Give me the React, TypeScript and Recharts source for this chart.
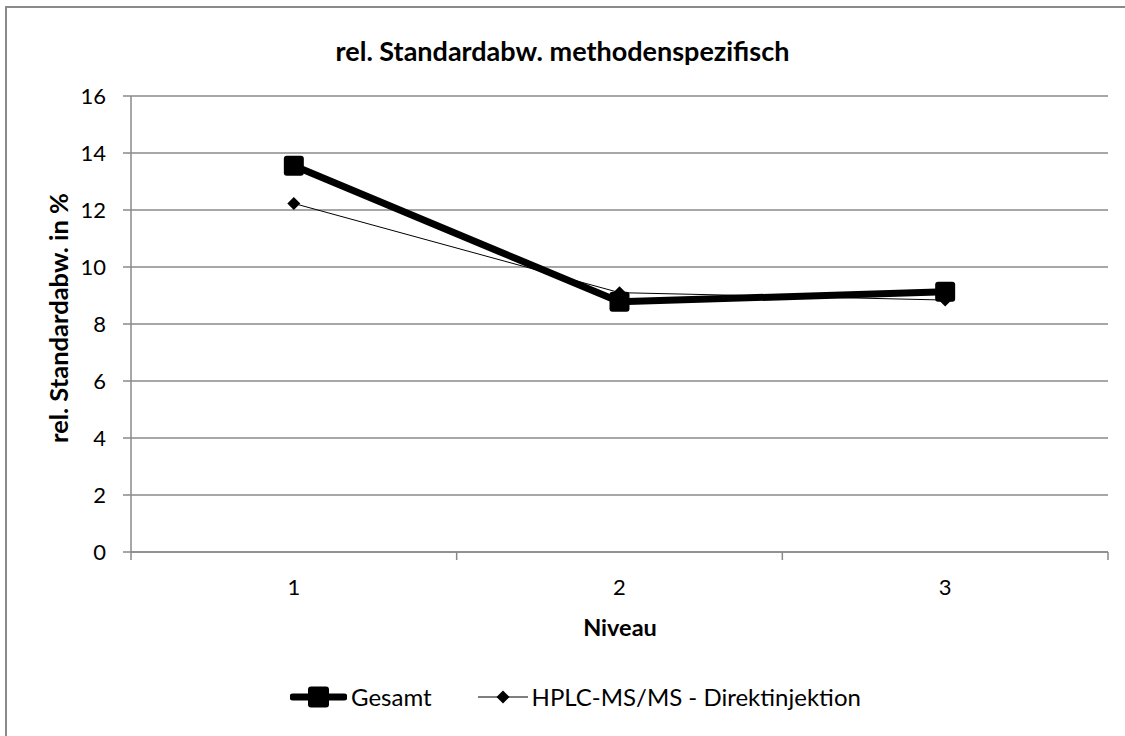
import { CartesianGrid, Legend, Line, LineChart, XAxis, YAxis } from "recharts";

const niveaus = [1, 2, 3];
const gesamt = [13.55, 8.78, 9.13];
const hplcDirekt = [12.23, 9.1, 8.84];
const yTicks = [0, 2, 4, 6, 8, 10, 12, 14, 16];
const xTicks = [0.5, 1, 1.5, 2, 2.5, 3, 3.5];

const data = niveaus.map((n, i) => ({ niveau: n, gesamt: gesamt[i], hplc: hplcDirekt[i] }));

const FONT = "Lato, 'Open Sans', sans-serif";
const GRID = "#8a8a8a";

const SquareDot = ({ cx, cy }: any) => (
  <rect x={cx - 10} y={cy - 10} width={20} height={20} rx={3} fill="#000" />
);

const DiamondDot = ({ cx, cy }: any) => (
  <polygon points={`${cx},${cy - 6.5} ${cx + 6.5},${cy} ${cx},${cy + 6.5} ${cx - 6.5},${cy}`} fill="#000" />
);

// integer ticks get a label, half ticks are the category boundary marks
const XTick = ({ x, y, payload }: any) => {
  const v = payload.value;
  if (Number.isInteger(v)) {
    return (
      <text x={x} y={y + 34} textAnchor="middle" dominantBaseline="central" fontSize={22} fontFamily={FONT} fill="#000">
        {v}
      </text>
    );
  }
  return <line x1={x} y1={y} x2={x} y2={y + 8} stroke={GRID} strokeWidth={1.5} />;
};

const LegendBody = () => (
  <div style={{ display: "flex", alignItems: "center", fontFamily: FONT, fontSize: 24, color: "#000" }}>
    <svg width={57} height={24}>
      <line x1={3} y1={12} x2={54} y2={12} stroke="#000" strokeWidth={7} strokeLinecap="round" />
      <rect x={18} y={1.5} width={21} height={21} rx={3} fill="#000" />
    </svg>
    <span style={{ marginLeft: 4 }}>Gesamt</span>
    <svg width={50} height={24} style={{ marginLeft: 46 }}>
      <line x1={0} y1={12} x2={50} y2={12} stroke="#000" strokeWidth={1} />
      <polygon points="25,5.5 31.5,12 25,18.5 18.5,12" fill="#000" />
    </svg>
    <span style={{ marginLeft: 4 }}>HPLC-MS/MS - Direktinjektion</span>
  </div>
);

const App = () => (
  <div style={{ position: "absolute", left: 0, top: 0, width: 1125, height: 736, background: "#fff", overflow: "hidden" }}>
    <style>{`body{margin:0;overflow:hidden}`}</style>
    <div style={{ position: "absolute", left: 5, top: 6, width: 1125, height: 736, borderLeft: `2px solid ${GRID}`, borderTop: `2px solid ${GRID}` }} />
    <div
      style={{
        position: "absolute",
        left: 0,
        top: 34,
        width: 1125,
        textAlign: "center",
        fontFamily: FONT,
        fontWeight: 700,
        fontSize: 27,
        color: "#000",
      }}
    >
      rel. Standardabw. methodenspezifisch
    </div>
    <LineChart
      width={1125}
      height={736}
      data={data}
      margin={{ top: 96, right: 17, bottom: 0, left: 71 }}
      style={{ position: "absolute", left: 0, top: 0 }}
    >
      <CartesianGrid vertical={false} stroke={GRID} strokeWidth={1.5} />
      <XAxis
        dataKey="niveau"
        type="number"
        domain={[0.5, 3.5]}
        ticks={xTicks}
        interval={0}
        allowDecimals
        tick={<XTick />}
        tickLine={false}
        tickSize={0}
        tickMargin={0}
        height={184}
        axisLine={{ stroke: GRID, strokeWidth: 1.5 }}
        label={{
          content: () => (
            <text x={620} y={627} textAnchor="middle" dominantBaseline="central" fontSize={23.5} fontWeight={700} fontFamily={FONT} fill="#000">
              Niveau
            </text>
          ),
        }}
      />
      <YAxis
        domain={[0, 16]}
        ticks={yTicks}
        interval={0}
        width={60}
        tickSize={8}
        tickMargin={17}
        tickLine={{ stroke: GRID, strokeWidth: 1.5 }}
        axisLine={{ stroke: GRID, strokeWidth: 1.5 }}
        tick={{ fontSize: 22, fontFamily: FONT, fill: "#000" }}
        label={{
          content: () => (
            <text
              x={58}
              y={318}
              transform="rotate(-90 58 318)"
              textAnchor="middle"
              dominantBaseline="central"
              fontSize={25.5}
              fontWeight={700}
              fontFamily={FONT}
              fill="#000"
            >
              rel. Standardabw. in %
            </text>
          ),
        }}
      />
      <Legend
        content={<LegendBody />}
        layout="horizontal"
        verticalAlign="middle"
        align="center"
        wrapperStyle={{ position: "absolute", left: 290, top: 682, width: "auto" }}
      />
      <Line
        dataKey="gesamt"
        name="Gesamt"
        stroke="#000"
        strokeWidth={7}
        strokeLinejoin="round"
        dot={<SquareDot />}
        activeDot={false}
        isAnimationActive={false}
      />
      <Line
        dataKey="hplc"
        name="HPLC-MS/MS - Direktinjektion"
        stroke="#000"
        strokeWidth={1}
        dot={<DiamondDot />}
        activeDot={false}
        isAnimationActive={false}
      />
    </LineChart>
  </div>
);

export default App;
